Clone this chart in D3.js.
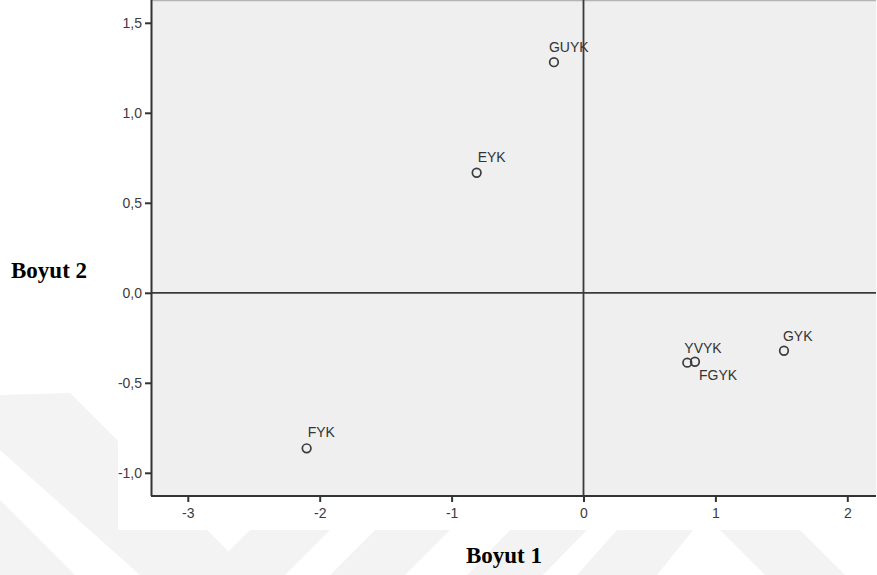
<!DOCTYPE html>
<html>
<head>
<meta charset="utf-8">
<script src="https://cdn.jsdelivr.net/npm/d3@7"></script>
<style>
  html, body { margin: 0; padding: 0; background: #ffffff; }
  svg { display: block; }
</style>
</head>
<body>
<script>
// ---- data ----
const labels  = ["GUYK", "EYK", "FYK", "YVYK", "FGYK", "GYK"];
const dim1    = [-0.224, -0.810, -2.099, 0.787, 0.845, 1.520];
const dim2    = [1.281, 0.667, -0.864, -0.388, -0.383, -0.322];
const xTicks  = [-3, -2, -1, 0, 1, 2];
const yTicks  = [-1.0, -0.5, 0.0, 0.5, 1.0, 1.5];
const xTitle  = "Boyut 1";
const yTitle  = "Boyut 2";

// label placement (style, not data)
const labelOffset = {
  GUYK: [-5, -10], EYK: [1, -11], FYK: [1, -11],
  YVYK: [-3, -10], FGYK: [4, 18], GYK: [-1, -10]
};

const W = 877, H = 575;
const plot = { left: 151, right: 876, top: 0, bottom: 496 };

const svg = d3.select("body").append("svg").attr("width", W).attr("height", H);

// faint page watermark (decorative)
const wm = svg.append("g").attr("fill", "#f3f3f3");
[
  [[0,395],[70,393],[252,575],[140,575],[0,450]],
  [[0,500],[75,575],[0,575]],
  [[250,530],[330,530],[285,575],[205,575]],
  [[330,575],[375,530],[450,530],[405,575]],
  [[510,530],[587,530],[543,575],[467,575]],
  [[617,530],[693,530],[657,575],[577,575]],
  [[720,530],[800,530],[845,575],[765,575]]
].forEach(p => wm.append("polygon").attr("points", p.map(q => q.join(",")).join(" ")));

// chart image area (white)
svg.append("rect").attr("x", 118).attr("y", 0).attr("width", W - 118).attr("height", 530).attr("fill", "#ffffff");

const x = d3.scaleLinear()
  .domain([(plot.left - 583.5) / 131.9, (plot.right - 583.5) / 131.9])
  .range([plot.left, plot.right]);
const y = d3.scaleLinear()
  .domain([(292.8 - plot.bottom) / 180, (292.8 - plot.top) / 180])
  .range([plot.bottom, plot.top]);

// plot background
svg.append("rect")
  .attr("x", plot.left).attr("y", plot.top)
  .attr("width", plot.right - plot.left).attr("height", plot.bottom - plot.top)
  .attr("fill", "#efefef");
svg.append("line").attr("x1", plot.left).attr("x2", plot.right).attr("y1", 0.5).attr("y2", 0.5)
  .attr("stroke", "#b4b4b4").attr("stroke-width", 1.5);
svg.append("line").attr("x1", plot.right + 0.5).attr("x2", plot.right + 0.5).attr("y1", 0).attr("y2", plot.bottom)
  .attr("stroke", "#fafafa").attr("stroke-width", 1);

// reference lines at 0
svg.append("line").attr("x1", x(0)).attr("x2", x(0)).attr("y1", plot.top).attr("y2", plot.bottom)
  .attr("stroke", "#3a3a3a").attr("stroke-width", 1.8);
svg.append("line").attr("x1", plot.left).attr("x2", plot.right).attr("y1", y(0)).attr("y2", y(0))
  .attr("stroke", "#3a3a3a").attr("stroke-width", 1.8);

const fmt = d => d3.format(".1f")(d).replace(".", ",").replace("−", "-");

// axes
const xAxis = d3.axisBottom(x).tickValues(xTicks).tickFormat(d => String(d)).tickSizeInner(6).tickSizeOuter(0).tickPadding(6);
const yAxis = d3.axisLeft(y).tickValues(yTicks).tickFormat(fmt).tickSizeInner(6).tickSizeOuter(0).tickPadding(3);

const gx = svg.append("g").attr("transform", `translate(0,${plot.bottom})`).call(xAxis);
const gy = svg.append("g").attr("transform", `translate(${plot.left},0)`).call(yAxis);

[gx, gy].forEach(g => {
  g.select(".domain").attr("stroke", "#333333").attr("stroke-width", 2);
  g.selectAll(".tick line").attr("stroke", "#333333").attr("stroke-width", 2);
  g.selectAll(".tick text")
    .attr("fill", "#3c3c3c")
    .style("font-family", "Arial, 'Liberation Sans', sans-serif")
    .style("font-size", "14px");
});
gy.select(".domain").attr("d", `M0.5,${plot.top}V${plot.bottom}`);
gx.select(".domain").attr("d", `M${plot.left},0V0H${plot.right}`);

// points
const pts = labels.map((l, i) => ({ label: l, d1: dim1[i], d2: dim2[i] }));
svg.append("g").selectAll("circle").data(pts).join("circle")
  .attr("cx", d => x(d.d1)).attr("cy", d => y(d.d2))
  .attr("r", 4.3)
  .attr("fill", "none").attr("stroke", "#3c3c3c").attr("stroke-width", 1.7);

svg.append("g").selectAll("text").data(pts).join("text")
  .attr("x", d => x(d.d1) + labelOffset[d.label][0])
  .attr("y", d => y(d.d2) + labelOffset[d.label][1])
  .text(d => d.label)
  .attr("fill", "#333333")
  .style("font-family", "Arial, 'Liberation Sans', sans-serif")
  .style("font-size", "14px");

// axis titles
svg.append("text").attr("x", 504).attr("y", 563).attr("text-anchor", "middle")
  .text(xTitle)
  .style("font-family", "'Times New Roman', 'Liberation Serif', serif")
  .style("font-weight", "bold").style("font-size", "23px").attr("fill", "#000");
svg.append("text").attr("x", 11).attr("y", 278)
  .text(yTitle)
  .style("font-family", "'Times New Roman', 'Liberation Serif', serif")
  .style("font-weight", "bold").style("font-size", "23px").attr("fill", "#000");
</script>
</body>
</html>
